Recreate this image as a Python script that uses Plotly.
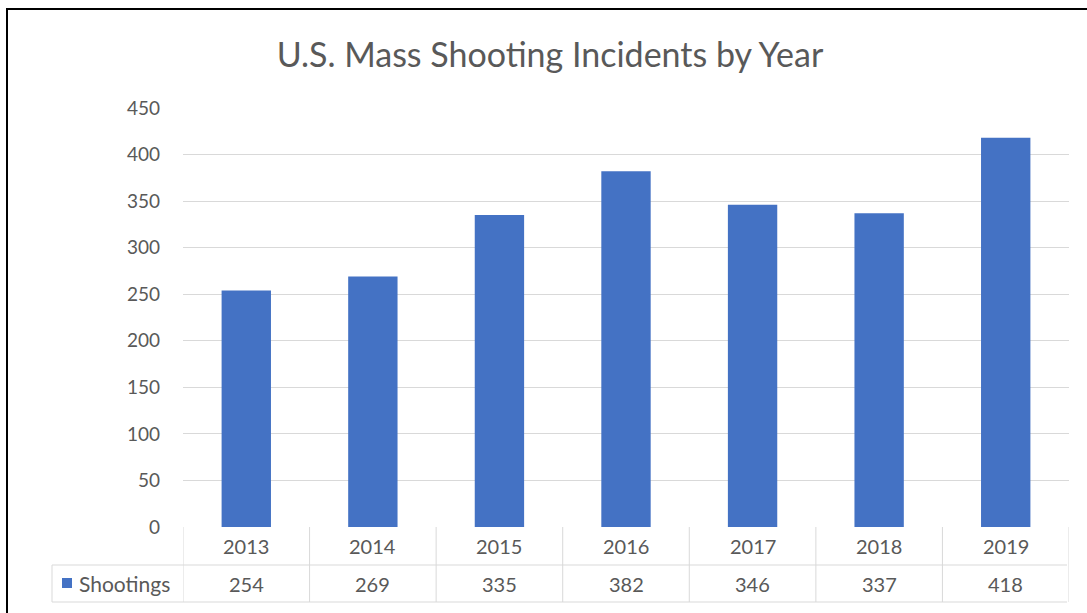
import plotly.graph_objects as go

years = ["2013", "2014", "2015", "2016", "2017", "2018", "2019"]
shootings = [254, 269, 335, 382, 346, 337, 418]
series_name = "Shootings"
title_text = "U.S. Mass Shooting Incidents by Year"
y_ticks = [0, 50, 100, 150, 200, 250, 300, 350, 400, 450]

W, H = 1087, 613
L, R, T, B = 183, 18, 108, 86
pw, ph = W - L - R, H - T - B
FONT = "Lato, 'Open Sans', sans-serif"
TXT = "#595959"
GRID = "#d9d9d9"
BAR = "#4472C4"

def px_x(x):
    return (x - L) / pw

def px_y(y):
    return (H - B - y) / ph

fig = go.Figure()
fig.add_trace(go.Bar(x=list(range(len(years))), y=shootings, name=series_name,
                     marker=dict(color=BAR, line=dict(width=0)), width=0.39,
                     hoverinfo="skip"))

shapes = []
annotations = []
n = len(years)
row1_top, row1_bot, row2_bot = 527, 565, 602
for yy in (row1_bot, row2_bot):
    shapes.append(dict(type="line", xref="paper", yref="paper",
                       x0=px_x(52), x1=1 - (2 / pw), y0=px_y(yy), y1=px_y(yy),
                       line=dict(color=GRID, width=1)))
for i in range(n + 1):
    shapes.append(dict(type="line", xref="x", yref="paper",
                       x0=i - 0.5, x1=i - 0.5, y0=px_y(row1_top), y1=px_y(row2_bot),
                       line=dict(color=GRID, width=1)))
shapes.append(dict(type="line", xref="paper", yref="paper",
                   x0=px_x(52), x1=px_x(52), y0=px_y(row1_bot), y1=px_y(row2_bot),
                   line=dict(color=GRID, width=1)))
shapes.append(dict(type="rect", xref="paper", yref="paper",
                   x0=px_x(62), x1=px_x(72), y0=px_y(578), y1=px_y(588),
                   fillcolor=BAR, line=dict(width=0)))
shapes.append(dict(type="line", xref="paper", yref="paper",
                   x0=px_x(7), x1=px_x(7), y0=px_y(9), y1=px_y(H + 5),
                   line=dict(color="black", width=2)))
shapes.append(dict(type="line", xref="paper", yref="paper",
                   x0=px_x(6), x1=px_x(W + 5), y0=px_y(9), y1=px_y(9),
                   line=dict(color="black", width=2)))

for i, (yr, v) in enumerate(zip(years, shootings)):
    annotations.append(dict(x=i, xref="x", y=px_y((row1_top + row1_bot) / 2), yref="paper",
                            text=yr, showarrow=False, xanchor="center", yanchor="middle",
                            font=dict(family=FONT, size=20, color=TXT)))
    annotations.append(dict(x=i, xref="x", y=px_y((row1_bot + row2_bot) / 2), yref="paper",
                            text=str(v), showarrow=False, xanchor="center", yanchor="middle",
                            font=dict(family=FONT, size=20, color=TXT)))
annotations.append(dict(x=px_x(77), xref="paper", y=px_y((row1_bot + row2_bot) / 2), yref="paper",
                        text=series_name, showarrow=False, xanchor="left", yanchor="middle",
                        font=dict(family=FONT, size=21, color=TXT)))

fig.update_layout(
    width=W, height=H,
    margin=dict(l=L, r=R, t=T, b=B),
    paper_bgcolor="white", plot_bgcolor="white",
    showlegend=False,
    title=dict(text=title_text, x=550 / W, xanchor="center",
               y=1 - 55 / H, yanchor="middle", yref="container",
               font=dict(family=FONT, size=34, color=TXT)),
    xaxis=dict(range=[-0.5, n - 0.5], showticklabels=False, showgrid=False,
               zeroline=False, showline=False, ticks="", fixedrange=True),
    yaxis=dict(range=[0, 450], tickvals=y_ticks, showgrid=True, gridcolor=GRID,
               gridwidth=1, zeroline=False, showline=False, ticks="",
               ticklabelstandoff=22,
               tickfont=dict(family=FONT, size=19, color=TXT)),
    shapes=shapes, annotations=annotations,
    bargap=0.6,
)

fig.write_html("out.html", config={"displayModeBar": False},
               post_script="document.body.style.margin='0';document.body.style.overflow='hidden';")
